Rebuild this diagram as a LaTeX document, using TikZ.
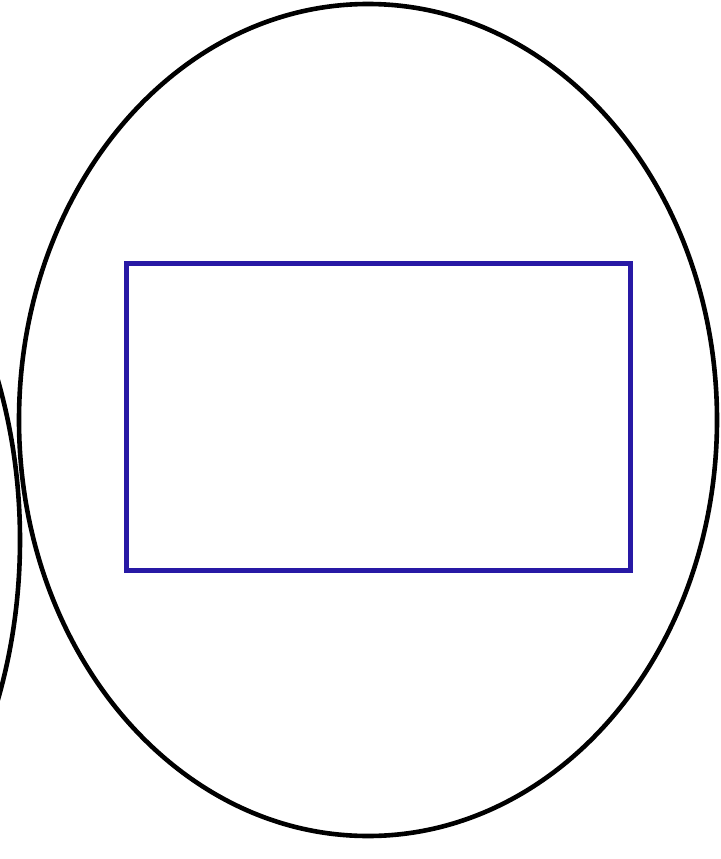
\documentclass[tikz,border=0pt]{standalone}
\definecolor{rectblue}{RGB}{40,25,165}
\begin{document}
\begin{tikzpicture}[x=1pt,y=-1pt,
  outline/.style={draw=black,line width=4.6pt},
  box/.style={draw=rectblue,line width=4.4pt}]
\useasboundingbox (0,0) rectangle (720,859);
\begin{scope}
\clip (0,0) rectangle (720,859);
\draw[outline] (368,420) ellipse [x radius=349, y radius=416];
\draw[outline] (-330,540) ellipse [x radius=350, y radius=456];
\end{scope}
\node[box,minimum width=504pt,minimum height=307pt,inner sep=0pt] (r) at (378.5,417) {};
\end{tikzpicture}
\end{document}
